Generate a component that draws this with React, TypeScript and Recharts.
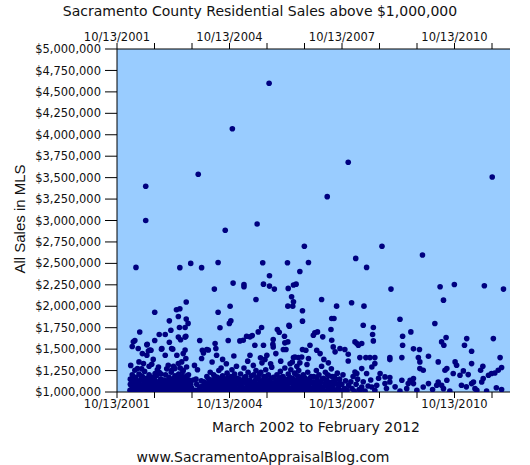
import { ScatterChart, Scatter, XAxis, YAxis, CartesianGrid } from 'recharts'

// sale date (decimal year) and price in $K, one list per year
const sales2002: [number, number][] = [
  [2002.29, 2453], [2002.55, 3400], [2002.55, 3000], [2002.79, 1930], [2002.39, 1700], [2002.91, 1670],
  [2002.26, 1600], [2002.19, 1530], [2002.58, 1550], [2002.79, 1600], [2002.66, 1490], [2002.97, 1500],
  [2002.22, 1585], [2002.35, 1507], [2002.59, 1557], [2002.62, 1479], [2002.69, 1487], [2002.46, 1448],
  [2002.58, 1429], [2002.98, 1507], [2002.37, 1351], [2002.49, 1331], [2002.26, 1253], [2002.33, 1273],
  [2002.71, 1324], [2002.89, 1292], [2002.80, 1215], [2002.75, 1380], [2002.15, 1310],
  [2002.13, 1020], [2002.14, 1150], [2002.16, 1080], [2002.19, 1200], [2002.20, 1040], [2002.23, 1120],
  [2002.25, 1010], [2002.28, 1170], [2002.30, 1060], [2002.32, 1100], [2002.34, 1020], [2002.37, 1210],
  [2002.39, 1070], [2002.41, 1140], [2002.43, 1015], [2002.46, 1180], [2002.48, 1050], [2002.51, 1110],
  [2002.52, 1240], [2002.55, 1030], [2002.57, 1160], [2002.60, 1080], [2002.62, 1010], [2002.64, 1200],
  [2002.67, 1120], [2002.69, 1045], [2002.72, 1170], [2002.74, 1085], [2002.77, 1020], [2002.79, 1130],
  [2002.82, 1060], [2002.84, 1190], [2002.86, 1010], [2002.88, 1100], [2002.91, 1230], [2002.93, 1040],
  [2002.95, 1150], [2002.97, 1075], [2002.99, 1010],
  [2002.14, 1090], [2002.17, 1010], [2002.21, 1160], [2002.24, 1070], [2002.27, 1030], [2002.31, 1130],
  [2002.33, 1050], [2002.36, 1100], [2002.40, 1020], [2002.42, 1190], [2002.45, 1085], [2002.50, 1040],
  [2002.53, 1150], [2002.56, 1090], [2002.59, 1130], [2002.61, 1050], [2002.65, 1100], [2002.68, 1160],
  [2002.71, 1020], [2002.73, 1110], [2002.76, 1060], [2002.80, 1180], [2002.83, 1020], [2002.85, 1120],
  [2002.89, 1050], [2002.92, 1110], [2002.96, 1210], [2002.44, 1270], [2002.64, 1300], [2002.86, 1260],
]

const sales2003: [number, number][] = [
  [2003.46, 2450], [2003.75, 2500], [2003.95, 3540], [2003.63, 2050], [2003.46, 1970], [2003.37, 1960],
  [2003.42, 1880], [2003.18, 1830], [2003.63, 1850], [2003.68, 1800], [2003.22, 1720], [2003.45, 1752],
  [2003.60, 1752], [2003.07, 1670], [2003.42, 1640], [2003.48, 1610], [2003.60, 1640], [2003.99, 1600],
  [2003.18, 1580], [2003.62, 1651], [2003.27, 1500], [2003.60, 1490], [2003.07, 1429], [2003.24, 1507],
  [2003.55, 1448], [2003.62, 1390], [2003.38, 1429], [2003.15, 1312], [2003.24, 1253], [2003.42, 1331],
  [2003.33, 1273], [2003.51, 1351], [2003.64, 1292], [2003.55, 1253], [2003.85, 1310], [2003.93, 1260],
  [2003.01, 1030], [2003.03, 1140], [2003.05, 1070], [2003.08, 1200], [2003.10, 1010], [2003.12, 1110],
  [2003.14, 1050], [2003.17, 1170], [2003.19, 1020], [2003.21, 1090], [2003.23, 1230], [2003.26, 1040],
  [2003.28, 1130], [2003.31, 1010], [2003.33, 1190], [2003.35, 1065], [2003.38, 1120], [2003.40, 1030],
  [2003.43, 1210], [2003.45, 1080], [2003.47, 1150], [2003.50, 1010], [2003.52, 1100], [2003.54, 1240],
  [2003.57, 1045], [2003.59, 1170], [2003.61, 1020], [2003.64, 1130], [2003.66, 1070], [2003.69, 1200],
  [2003.71, 1010], [2003.73, 1110], [2003.77, 1050], [2003.82, 1140], [2003.87, 1020], [2003.91, 1090],
  [2003.96, 1030],
  [2003.02, 1090], [2003.06, 1010], [2003.09, 1130], [2003.11, 1060], [2003.15, 1100], [2003.18, 1040],
  [2003.20, 1150], [2003.24, 1010], [2003.27, 1090], [2003.30, 1160], [2003.32, 1050], [2003.36, 1010],
  [2003.39, 1170], [2003.41, 1090], [2003.44, 1030], [2003.48, 1110], [2003.51, 1060], [2003.53, 1180],
  [2003.56, 1120], [2003.58, 1010], [2003.62, 1080], [2003.65, 1190], [2003.67, 1030], [2003.70, 1140],
  [2003.75, 1090], [2003.80, 1010], [2003.89, 1150], [2003.11, 1270], [2003.29, 1300], [2003.47, 1280],
]

const sales2004: [number, number][] = [
  [2004.04, 2450], [2004.48, 2510], [2004.38, 2200], [2004.88, 2270], [2004.86, 4070], [2004.67, 2886],
  [2004.48, 1930], [2004.80, 2000], [2004.78, 1800], [2004.53, 1750], [2004.82, 1830], [2004.06, 1487],
  [2004.09, 1456], [2004.04, 1390], [2004.18, 1495], [2004.40, 1565], [2004.42, 1507], [2004.44, 1429],
  [2004.22, 1490], [2004.75, 1600], [2004.32, 1350], [2004.60, 1380], [2004.70, 1330], [2004.90, 1420],
  [2004.97, 1300],
  [2004.01, 1060], [2004.05, 1010], [2004.10, 1120], [2004.14, 1040], [2004.18, 1180], [2004.21, 1015],
  [2004.24, 1090], [2004.27, 1230], [2004.29, 1050], [2004.31, 1140], [2004.34, 1010], [2004.36, 1200],
  [2004.38, 1075], [2004.41, 1120], [2004.43, 1030], [2004.46, 1170], [2004.48, 1060], [2004.50, 1250],
  [2004.53, 1010], [2004.55, 1110], [2004.58, 1045], [2004.60, 1190], [2004.62, 1080], [2004.65, 1020],
  [2004.67, 1150], [2004.70, 1060], [2004.72, 1220], [2004.74, 1010], [2004.77, 1100], [2004.79, 1040],
  [2004.82, 1180], [2004.84, 1070], [2004.87, 1130], [2004.89, 1020], [2004.92, 1210], [2004.94, 1090],
  [2004.97, 1030], [2004.99, 1160],
  [2004.03, 1130], [2004.08, 1070], [2004.12, 1010], [2004.16, 1100], [2004.20, 1060], [2004.23, 1150],
  [2004.26, 1020], [2004.28, 1110], [2004.32, 1080], [2004.35, 1140], [2004.37, 1020], [2004.40, 1180],
  [2004.42, 1060], [2004.45, 1100], [2004.47, 1010], [2004.51, 1130], [2004.54, 1080], [2004.57, 1150],
  [2004.59, 1020], [2004.61, 1110], [2004.64, 1070], [2004.66, 1010], [2004.69, 1120], [2004.71, 1040],
  [2004.73, 1160], [2004.76, 1060], [2004.78, 1130], [2004.81, 1010], [2004.83, 1110], [2004.86, 1050],
  [2004.88, 1180], [2004.91, 1060], [2004.93, 1140], [2004.96, 1010], [2004.98, 1100], [2004.56, 1280],
  [2004.85, 1260],
]

const sales2005: [number, number][] = [
  [2005.84, 4600], [2005.52, 2960], [2005.67, 2507], [2005.85, 2356], [2005.17, 2254], [2005.17, 2227],
  [2005.69, 2258], [2005.85, 2235], [2005.98, 2200], [2005.49, 2079], [2005.64, 1752], [2005.55, 1701],
  [2005.24, 1651], [2005.33, 1643], [2005.06, 1596], [2005.39, 1658], [2005.95, 1612], [2005.94, 1557],
  [2005.46, 1546], [2005.69, 1546], [2005.61, 1398], [2005.33, 1429], [2005.95, 1526], [2005.78, 1429],
  [2005.15, 1604],
  [2005.01, 1030], [2005.03, 1150], [2005.05, 1080], [2005.08, 1210], [2005.10, 1010], [2005.12, 1120],
  [2005.14, 1050], [2005.17, 1280], [2005.19, 1170], [2005.21, 1020], [2005.23, 1100], [2005.26, 1060],
  [2005.28, 1230], [2005.30, 1010], [2005.33, 1140], [2005.35, 1075], [2005.37, 1190], [2005.40, 1030],
  [2005.42, 1310], [2005.44, 1110], [2005.47, 1050], [2005.49, 1250], [2005.51, 1160], [2005.54, 1015],
  [2005.56, 1090], [2005.58, 1210], [2005.61, 1040], [2005.63, 1130], [2005.65, 1340], [2005.68, 1070],
  [2005.70, 1180], [2005.72, 1020], [2005.75, 1260], [2005.77, 1110], [2005.79, 1050], [2005.82, 1200],
  [2005.84, 1010], [2005.86, 1140], [2005.89, 1080], [2005.91, 1290], [2005.93, 1030], [2005.96, 1170],
  [2005.98, 1060],
  [2005.02, 1100], [2005.06, 1020], [2005.09, 1140], [2005.11, 1070], [2005.16, 1010], [2005.18, 1120],
  [2005.22, 1180], [2005.25, 1030], [2005.27, 1130], [2005.31, 1090], [2005.34, 1020], [2005.38, 1110],
  [2005.41, 1060], [2005.43, 1200], [2005.46, 1010], [2005.48, 1140], [2005.52, 1080], [2005.55, 1170],
  [2005.57, 1030], [2005.60, 1120], [2005.62, 1230], [2005.66, 1010], [2005.69, 1100], [2005.71, 1150],
  [2005.74, 1040], [2005.76, 1180], [2005.80, 1090], [2005.83, 1130], [2005.87, 1030], [2005.90, 1160],
  [2005.92, 1100], [2005.97, 1010], [2005.27, 1360], [2005.73, 1380], [2005.88, 1330],
]

const sales2006: [number, number][] = [
  [2006.78, 2700], [2006.33, 2507], [2006.89, 2511], [2006.66, 2406], [2006.35, 2208], [2006.49, 2247],
  [2006.56, 2258], [2006.44, 2110], [2006.49, 2052], [2006.34, 2001], [2006.47, 2001], [2006.73, 1947],
  [2006.73, 1826], [2006.38, 1767], [2006.06, 1729], [2006.11, 1697], [2006.25, 1651], [2006.34, 1584],
  [2006.26, 1573], [2006.37, 1779], [2006.53, 1409], [2006.71, 1409], [2006.93, 1546], [2006.89, 1390],
  [2006.22, 1495], [2006.29, 1495], [2006.73, 1495], [2006.82, 1487], [2006.02, 1448], [2006.49, 1401],
  [2006.62, 1401], [2006.15, 1360], [2006.40, 1330], [2006.58, 1300], [2006.85, 1320],
  [2006.01, 1120], [2006.03, 1020], [2006.05, 1200], [2006.07, 1060], [2006.10, 1150], [2006.12, 1010],
  [2006.14, 1240], [2006.17, 1090], [2006.19, 1040], [2006.21, 1180], [2006.24, 1070], [2006.26, 1280],
  [2006.28, 1020], [2006.31, 1130], [2006.33, 1060], [2006.35, 1210], [2006.38, 1010], [2006.40, 1110],
  [2006.42, 1260], [2006.45, 1050], [2006.47, 1160], [2006.49, 1030], [2006.52, 1220], [2006.54, 1090],
  [2006.56, 1010], [2006.59, 1140], [2006.61, 1060], [2006.63, 1250], [2006.66, 1030], [2006.68, 1170],
  [2006.70, 1080], [2006.73, 1020], [2006.75, 1200], [2006.77, 1110], [2006.80, 1040], [2006.82, 1150],
  [2006.84, 1010], [2006.87, 1230], [2006.89, 1070], [2006.91, 1130], [2006.94, 1020], [2006.96, 1180],
  [2006.98, 1050],
  [2006.02, 1070], [2006.06, 1140], [2006.09, 1030], [2006.11, 1100], [2006.16, 1170], [2006.18, 1010],
  [2006.20, 1120], [2006.23, 1050], [2006.27, 1150], [2006.30, 1080], [2006.32, 1010], [2006.36, 1110],
  [2006.39, 1170], [2006.43, 1020], [2006.46, 1100], [2006.50, 1140], [2006.53, 1040], [2006.57, 1090],
  [2006.60, 1190], [2006.64, 1100], [2006.67, 1010], [2006.71, 1130], [2006.74, 1060], [2006.78, 1170],
  [2006.81, 1010], [2006.86, 1090], [2006.90, 1020], [2006.93, 1160], [2006.97, 1110], [2006.46, 1350],
  [2006.66, 1340],
]

const sales2007: [number, number][] = [
  [2007.95, 3680], [2007.39, 3278], [2007.24, 2079], [2007.64, 2001], [2007.51, 1857], [2007.57, 1857],
  [2007.49, 1729], [2007.06, 1690], [2007.13, 1701], [2007.27, 1643], [2007.02, 1662], [2007.51, 1604],
  [2007.55, 1526], [2007.73, 1507], [2007.86, 1495], [2007.95, 1440], [2007.60, 1468], [2007.95, 1362],
  [2007.11, 1487], [2007.20, 1448], [2007.30, 1380], [2007.42, 1340],
  [2007.01, 1040], [2007.03, 1180], [2007.05, 1090], [2007.08, 1010], [2007.10, 1250], [2007.12, 1130],
  [2007.15, 1060], [2007.17, 1200], [2007.19, 1020], [2007.22, 1110], [2007.24, 1300], [2007.26, 1050],
  [2007.29, 1160], [2007.31, 1010], [2007.34, 1230], [2007.36, 1080], [2007.38, 1140], [2007.41, 1030],
  [2007.43, 1190], [2007.46, 1070], [2007.48, 1010], [2007.50, 1270], [2007.53, 1120], [2007.55, 1040],
  [2007.58, 1180], [2007.60, 1020], [2007.63, 1100], [2007.66, 1220], [2007.69, 1050], [2007.72, 1150],
  [2007.75, 1010], [2007.78, 1090], [2007.81, 1200], [2007.85, 1040], [2007.88, 1130], [2007.92, 1020],
  [2007.96, 1080],
  [2007.02, 1120], [2007.07, 1060], [2007.11, 1170], [2007.14, 1020], [2007.18, 1100], [2007.21, 1060],
  [2007.25, 1150], [2007.28, 1030], [2007.33, 1100], [2007.37, 1010], [2007.40, 1200], [2007.44, 1110],
  [2007.47, 1050], [2007.52, 1180], [2007.57, 1090], [2007.62, 1150], [2007.67, 1020], [2007.73, 1100],
  [2007.83, 1030],
]

const sales2008: [number, number][] = [
  [2008.15, 2558], [2008.44, 2453], [2008.04, 2040], [2008.37, 2001], [2008.85, 2700], [2008.35, 1779],
  [2008.62, 1752], [2008.60, 1670], [2008.62, 1596], [2008.13, 1584], [2008.22, 1546], [2008.18, 1565],
  [2008.31, 1565], [2008.26, 1401], [2008.42, 1401], [2008.53, 1401], [2008.66, 1401], [2008.66, 1331],
  [2008.58, 1292], [2008.31, 1273], [2008.44, 1215], [2008.13, 1234], [2008.18, 1215], [2008.80, 1215],
  [2008.93, 1176],
  [2008.02, 1120], [2008.05, 1040], [2008.08, 1180], [2008.11, 1010], [2008.16, 1090], [2008.20, 1150],
  [2008.24, 1030], [2008.27, 1020], [2008.31, 1059], [2008.35, 1120], [2008.40, 1010], [2008.48, 1070],
  [2008.55, 1140], [2008.58, 1059], [2008.66, 1020], [2008.71, 1078], [2008.76, 1160], [2008.93, 1098],
  [2008.97, 1040],
]

const sales2009: [number, number][] = [
  [2009.09, 2200], [2009.93, 2597], [2009.33, 1849], [2009.62, 1701], [2009.40, 1651], [2009.40, 1546],
  [2009.69, 1503], [2009.85, 1495], [2009.06, 1401], [2009.06, 1378], [2009.38, 1401], [2009.82, 1401],
  [2009.86, 1351], [2009.86, 1273], [2009.95, 1253], [2009.06, 1168], [2009.06, 1117], [2009.33, 1012],
  [2009.38, 1137], [2009.60, 1137], [2009.69, 1156], [2009.55, 1098], [2009.51, 1039], [2009.69, 1098],
  [2009.95, 1059], [2009.20, 1060], [2009.78, 1020],
]

const sales2010: [number, number][] = [
  [2010.40, 2227], [2010.78, 2254], [2010.49, 2071], [2010.26, 1799], [2010.56, 1635], [2010.44, 1584],
  [2010.50, 1546], [2010.09, 1417], [2010.35, 1351], [2010.53, 1253], [2010.58, 1273], [2010.80, 1351],
  [2010.84, 1312], [2010.75, 1215], [2010.93, 1195], [2010.09, 1098], [2010.31, 1078], [2010.35, 1117],
  [2010.49, 1039], [2010.44, 1078], [2010.58, 1137], [2010.66, 1012], [2010.97, 1078], [2010.20, 1030],
]

const sales2011: [number, number][] = [
  [2011.58, 2239], [2011.79, 3508], [2011.11, 1623], [2011.05, 1546], [2011.24, 1475], [2011.82, 1623],
  [2011.24, 1331], [2011.54, 1300], [2011.48, 1253], [2011.95, 1253], [2011.86, 1222], [2011.69, 1195],
  [2011.15, 1203], [2011.02, 1246], [2011.24, 1098], [2011.29, 1117], [2011.38, 1020], [2011.33, 1039],
  [2011.51, 1117], [2011.55, 1156], [2011.64, 1012], [2011.77, 1215], [2011.10, 1060], [2011.90, 1050],
]

const sales2012: [number, number][] = [
  [2012.09, 2200], [2012.00, 1401], [2012.04, 1285], [2012.04, 1028],
]

// axis: 10/13/2001 origin, one tick per year, label every third
const X_MIN = 2001.784
const X_MAX = 2012.264
const xTicks = [0, 1, 2, 3, 4, 5, 6, 7, 8, 9, 10].map((i) => X_MIN + i)
const xTickLabels = ['10/13/2001', '', '', '10/13/2004', '', '', '10/13/2007', '', '', '10/13/2010', '']
const yTicks = [1000000, 1250000, 1500000, 1750000, 2000000, 2250000, 2500000, 2750000, 3000000,
  3250000, 3500000, 3750000, 4000000, 4250000, 4500000, 4750000, 5000000]

const allSales = [sales2002, sales2003, sales2004, sales2005, sales2006, sales2007, sales2008,
  sales2009, sales2010, sales2011, sales2012].flat()
const data = allSales.map(([x, k]) => ({ x, y: k * 1000 }))

const fmtX = (v: number) => {
  const i = xTicks.findIndex((t) => Math.abs(t - v) < 0.01)
  return i >= 0 ? xTickLabels[i] : ''
}
const fmtY = (v: number) => '$' + v.toLocaleString('en-US')

const tickStyle = { fontSize: 11.5, fill: '#111', fontFamily: 'DejaVu Sans' }
const font = 'DejaVu Sans'

const Dot = (p: any) => <circle cx={p.cx} cy={p.cy} r={2.8} fill="#000080" />

export default function App() {
  const overlay = (left: number, top: number, extra: any = {}) => ({
    position: 'absolute' as const, left, top, transform: 'translate(-50%, -50%)',
    whiteSpace: 'nowrap' as const, fontFamily: font, color: '#111', ...extra,
  })
  return (
    <div style={{ position: 'absolute', left: 0, top: 0, width: 530, height: 465, background: '#fff' }}>
      <ScatterChart width={530} height={465} margin={{ top: 24, right: 20, bottom: 48, left: 0 }}>
        <CartesianGrid horizontal={false} vertical={false} fill="#99ccff" />
        <XAxis xAxisId="bottom" type="number" dataKey="x" domain={[X_MIN, X_MAX]} ticks={xTicks}
          allowDataOverflow tickFormatter={fmtX} height={25} tickSize={6} interval={0}
          stroke="#000" tick={tickStyle} />
        <XAxis xAxisId="top" orientation="top" type="number" dataKey="x" domain={[X_MIN, X_MAX]}
          ticks={xTicks} allowDataOverflow tickFormatter={fmtX} height={25} tickSize={6} interval={0}
          stroke="#000" tick={tickStyle} />
        <YAxis yAxisId="left" type="number" dataKey="y" domain={[1000000, 5000000]} ticks={yTicks}
          allowDataOverflow tickFormatter={fmtY} width={117} tickSize={12} tickMargin={4} interval={0}
          stroke="#000" tick={tickStyle} />
        <YAxis yAxisId="right" orientation="right" type="number" dataKey="y" domain={[1000000, 5000000]}
          width={0} tick={false} tickLine={false} stroke="#000" />
        <Scatter data={data} xAxisId="bottom" yAxisId="left" shape={Dot} isAnimationActive={false} />
        <Scatter data={[]} xAxisId="top" yAxisId="right" isAnimationActive={false} />
      </ScatterChart>
      <div style={overlay(260, 11, { fontSize: 14 })}>
        Sacramento County Residential Sales above $1,000,000
      </div>
      <div style={overlay(19, 219, { fontSize: 15, fontFamily: 'Liberation Sans', transform: 'translate(-50%, -50%) rotate(-90deg)' })}>
        All Sales in MLS
      </div>
      <div style={overlay(316, 427, { fontSize: 14 })}>March 2002 to February 2012</div>
      <div style={overlay(263, 457, { fontSize: 14 })}>www.SacramentoAppraisalBlog.com</div>
    </div>
  )
}
